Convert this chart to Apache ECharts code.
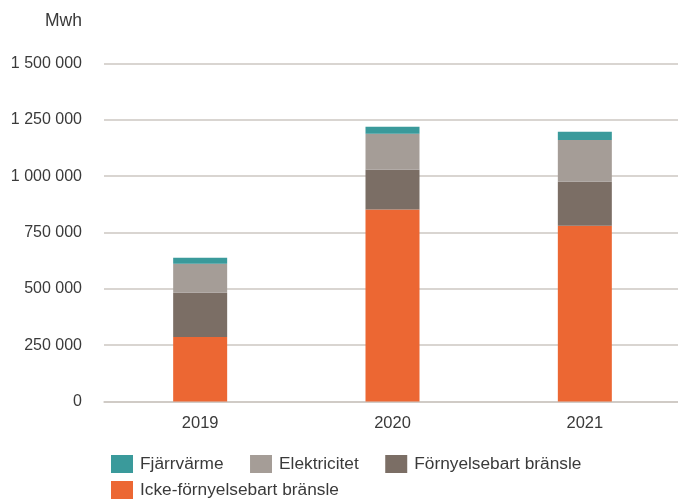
<!DOCTYPE html>
<html>
<head>
<meta charset="utf-8">
<script src="https://cdn.jsdelivr.net/npm/echarts@6/dist/echarts.min.js"></script>
<style>
  html, body { margin: 0; padding: 0; background: #fff; }
  #chart { width: 678px; height: 499px; }
</style>
</head>
<body>
<div id="chart"></div>
<script>
// årsdata, Mwh
const years = ['2019', '2020', '2021'];
const ickeFornybart = [286000, 852000, 780000];
const fornybart = [197000, 176000, 195000];
const elektricitet = [128000, 160000, 186000];
const fjarrvarme = [27000, 31000, 36000];

const font = 'Liberation Sans, Arial, Helvetica, sans-serif';
const textColor = '#3a3a3a';
const lineColor = '#cdc7c2';

const chart = echarts.init(document.getElementById('chart'));

function fmt(v) {
  return String(v).replace(/\B(?=(\d{3})+(?!\d))/g, ' ');
}

function legend(names, top) {
  return {
    data: names,
    left: 111,
    top: top,
    padding: 0,
    orient: 'horizontal',
    itemWidth: 22,
    itemHeight: 18,
    itemGap: 26.5,
    icon: 'rect',
    textStyle: { fontFamily: font, fontSize: 17.3, color: textColor, padding: [0, 0, 0, 2] }
  };
}

chart.setOption({
  animation: false,
  title: {
    text: 'Mwh',
    left: 45,
    top: 12,
    padding: 0,
    textStyle: { fontFamily: font, fontSize: 17.5, fontWeight: 'normal', color: textColor }
  },
  legend: [
    legend(['Fjärrvärme', 'Elektricitet', 'Förnyelsebart bränsle'], 455),
    legend(['Icke-förnyelsebart bränsle'], 481)
  ],
  grid: {
    left: 104,
    top: 63.5,
    width: 577,
    height: 338,
    outerBoundsMode: 'none'
  },
  xAxis: {
    type: 'category',
    data: years,
    axisLine: { lineStyle: { color: lineColor, width: 1.5 } },
    axisTick: { length: 12, lineStyle: { color: lineColor, width: 1.5 } },
    axisLabel: { fontFamily: font, fontSize: 16.5, color: textColor, margin: 13 }
  },
  yAxis: {
    type: 'value',
    min: 0,
    max: 1500000,
    interval: 250000,
    axisLine: { show: false },
    axisTick: { show: false },
    splitLine: { lineStyle: { color: lineColor, width: 1.5 } },
    axisLabel: {
      fontFamily: font, fontSize: 16, color: textColor, margin: 22,
      formatter: fmt
    }
  },
  series: [
    { name: 'Icke-förnyelsebart bränsle', type: 'bar', stack: 'a', barWidth: 54, data: ickeFornybart, itemStyle: { color: '#ec6733' } },
    { name: 'Förnyelsebart bränsle', type: 'bar', stack: 'a', barWidth: 54, data: fornybart, itemStyle: { color: '#7b6e65' } },
    { name: 'Elektricitet', type: 'bar', stack: 'a', barWidth: 54, data: elektricitet, itemStyle: { color: '#a59d97' } },
    { name: 'Fjärrvärme', type: 'bar', stack: 'a', barWidth: 54, data: fjarrvarme, itemStyle: { color: '#3a9a9b' } }
  ]
});
</script>
</body>
</html>
